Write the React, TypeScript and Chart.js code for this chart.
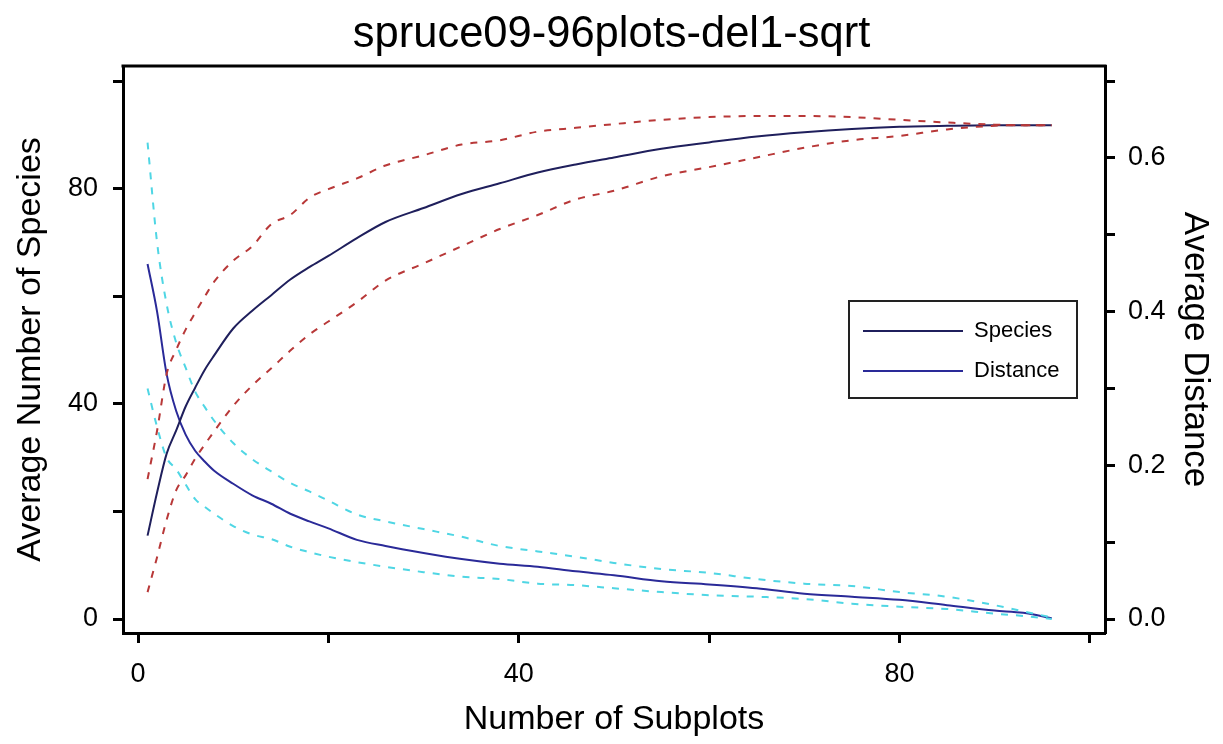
import { useEffect, useRef } from "react";
import { Chart, registerables } from "chart.js";

Chart.register(...registerables);

const chartTitle = "spruce09-96plots-del1-sqrt";
const xTitle = "Number of Subplots";
const leftTitle = "Average Number of Species";
const rightTitle = "Average Distance";

const subplots = [1, 2, 3, 4, 5, 6, 7, 8, 10, 12, 14, 16, 18, 20, 23, 26, 30, 34, 38, 42, 46, 50, 55, 60, 65, 70, 75, 80, 85, 90, 93, 96];

const speciesMean = [15.5, 23.5, 30.7, 35.0, 39.5, 43.0, 46.3, 49.0, 54.0, 57.3, 60.2, 63.1, 65.4, 67.5, 70.8, 73.8, 76.4, 79.0, 81.0, 83.0, 84.5, 85.8, 87.4, 88.6, 89.7, 90.5, 91.1, 91.5, 91.7, 91.8, 91.8, 91.8];
const speciesUpper = [26.0, 35.0, 45.5, 50.0, 53.8, 56.9, 59.9, 62.7, 66.6, 69.3, 73.4, 75.1, 78.3, 79.9, 81.9, 84.3, 86.2, 88.2, 89.0, 90.6, 91.3, 92.0, 92.8, 93.3, 93.5, 93.5, 93.3, 92.8, 92.3, 91.9, 91.8, 91.8];
const speciesLower = [5.0, 11.5, 18.4, 23.9, 26.7, 29.8, 32.4, 34.9, 39.6, 43.4, 46.6, 49.9, 52.9, 55.3, 58.9, 62.9, 66.1, 69.3, 72.5, 75.1, 78.0, 79.6, 82.3, 84.0, 85.8, 87.6, 89.0, 89.8, 91.0, 91.7, 91.8, 91.8];

const distanceMean = [0.462, 0.4, 0.319, 0.271, 0.24, 0.219, 0.205, 0.193, 0.176, 0.161, 0.15, 0.137, 0.127, 0.118, 0.103, 0.095, 0.086, 0.078, 0.072, 0.068, 0.062, 0.057, 0.049, 0.045, 0.04, 0.033, 0.029, 0.025, 0.018, 0.011, 0.008, 0.001];
const distanceUpper = [0.62, 0.49, 0.41, 0.36, 0.327, 0.296, 0.276, 0.258, 0.229, 0.208, 0.192, 0.177, 0.166, 0.154, 0.136, 0.127, 0.117, 0.107, 0.095, 0.088, 0.081, 0.073, 0.065, 0.06, 0.052, 0.046, 0.043, 0.035, 0.029, 0.018, 0.01, 0.002];
const distanceLower = [0.3, 0.25, 0.21, 0.195, 0.175, 0.156, 0.146, 0.137, 0.121, 0.11, 0.104, 0.094, 0.087, 0.081, 0.074, 0.068, 0.061, 0.055, 0.052, 0.046, 0.044, 0.04, 0.035, 0.031, 0.029, 0.026, 0.02, 0.016, 0.013, 0.007, 0.004, 0.0];

const xTicks = [0, 20, 40, 60, 80, 100];
const xTickLabels = [0, 40, 80];
const speciesTicks = [0, 20, 40, 60, 80, 100];
const speciesTickLabels = [0, 40, 80];
const distanceTicks = [0, 0.1, 0.2, 0.3, 0.4, 0.5, 0.6, 0.7];
const distanceTickLabels = [0, 0.2, 0.4, 0.6];

const FONT = "'Liberation Sans', Arial, sans-serif";
const speciesColor = "#1f1f5c";
const distanceColor = "#2a2a98";
const redDash = "#b83838";
const cyanDash = "#4fd6e4";

const pts = (arr: number[]) => subplots.map((n, i) => ({ x: n, y: arr[i] }));
const near = (list: number[], v: number) => list.some((t) => Math.abs(t - v) < 1e-6);

const framePlugin = {
  id: "frameAndLegend",
  afterDraw(chart: any) {
    const { ctx, chartArea: a } = chart;
    ctx.save();
    ctx.strokeStyle = "#000";
    ctx.lineWidth = 3;
    ctx.beginPath();
    ctx.moveTo(a.left - 1.5, a.top);
    ctx.lineTo(a.right + 1.5, a.top);
    ctx.stroke();

    // legend box
    const items = chart.data.datasets.filter((d: any) => d.showInLegend);
    ctx.lineWidth = 2;
    ctx.strokeStyle = "#222";
    ctx.strokeRect(849, 301, 228, 97);
    ctx.font = `22px ${FONT}`;
    ctx.textBaseline = "middle";
    ctx.fillStyle = "#000";
    items.forEach((d: any, i: number) => {
      const y = 331 + i * 40;
      ctx.strokeStyle = d.borderColor;
      ctx.lineWidth = 2;
      ctx.beginPath();
      ctx.moveTo(863, y);
      ctx.lineTo(963, y);
      ctx.stroke();
      ctx.fillText(d.label, 974, y);
    });
    ctx.restore();
  },
};

export default function App() {
  const ref = useRef<HTMLCanvasElement | null>(null);
  useEffect(() => {
    if (!ref.current) return;
    const line = (label: string, arr: number[], axis: string, color: string, dashed: boolean, legend: boolean) => ({
      label,
      data: pts(arr),
      yAxisID: axis,
      borderColor: color,
      backgroundColor: color,
      borderWidth: 2,
      borderDash: dashed ? [7, 8] : [],
      pointRadius: 0,
      fill: false,
      cubicInterpolationMode: "monotone" as const,
      showInLegend: legend,
    });
    const chart = new Chart(ref.current, {
      type: "line",
      data: {
        datasets: [
          line("Species upper", speciesUpper, "y", redDash, true, false),
          line("Species lower", speciesLower, "y", redDash, true, false),
          line("Distance upper", distanceUpper, "y1", cyanDash, true, false),
          line("Distance lower", distanceLower, "y1", cyanDash, true, false),
          line("Species", speciesMean, "y", speciesColor, false, true),
          line("Distance", distanceMean, "y1", distanceColor, false, true),
        ] as any,
      },
      options: {
        animation: false,
        responsive: false,
        layout: { padding: 0 },
        plugins: {
          legend: { display: false },
          tooltip: { enabled: false },
          title: {
            display: true,
            text: chartTitle,
            color: "#000",
            font: { size: 43.5, family: FONT, weight: "normal" },
            padding: { top: 9, bottom: 4.8 },
          },
        },
        scales: {
          x: {
            type: "linear",
            position: "bottom",
            min: -1.58,
            max: 101.6,
            afterBuildTicks: (s: any) => {
              s.ticks = xTicks.map((v) => ({ value: v }));
            },
            afterFit: (s: any) => {
              s.height = 111;
            },
            ticks: {
              autoSkip: false,
              maxRotation: 0,
              padding: 15,
              color: "#000",
              font: { size: 27, family: FONT },
              callback: (v: any) => (near(xTickLabels, Number(v)) ? String(v) : ""),
            },
            grid: { drawOnChartArea: false, drawTicks: true, tickLength: 10, tickWidth: 3, tickColor: "#000" },
            border: { display: true, width: 3, color: "#000" },
            title: {
              display: true,
              text: xTitle,
              color: "#000",
              font: { size: 34, family: FONT },
              padding: { top: 0, bottom: 4 },
            },
          },
          y: {
            type: "linear",
            position: "left",
            min: -2.6,
            max: 102.8,
            afterBuildTicks: (s: any) => {
              s.ticks = speciesTicks.map((v) => ({ value: v }));
            },
            afterFit: (s: any) => {
              s.width = 123;
            },
            ticks: {
              autoSkip: false,
              padding: 15,
              color: "#000",
              font: { size: 27, family: FONT },
              callback: (v: any) => (near(speciesTickLabels, Number(v)) ? String(v) : ""),
            },
            grid: { drawOnChartArea: false, drawTicks: true, tickLength: 10, tickWidth: 3, tickColor: "#000" },
            border: { display: true, width: 3, color: "#000" },
            title: {
              display: true,
              text: leftTitle,
              color: "#000",
              font: { size: 34, family: FONT },
              padding: { top: 10, bottom: 0 },
            },
          },
          y1: {
            type: "linear",
            position: "right",
            min: -0.0182,
            max: 0.7196,
            afterBuildTicks: (s: any) => {
              s.ticks = distanceTicks.map((v) => ({ value: v }));
            },
            afterFit: (s: any) => {
              s.width = 118;
            },
            ticks: {
              autoSkip: false,
              padding: 13,
              color: "#000",
              font: { size: 27, family: FONT },
              callback: (v: any) => (near(distanceTickLabels, Number(v)) ? Number(v).toFixed(1) : ""),
            },
            grid: { drawOnChartArea: false, drawTicks: true, tickLength: 10, tickWidth: 3, tickColor: "#000" },
            border: { display: true, width: 3, color: "#000" },
            title: {
              display: true,
              text: rightTitle,
              color: "#000",
              font: { size: 35, family: FONT },
              padding: { top: 7, bottom: 0 },
            },
          },
        },
      } as any,
      plugins: [framePlugin],
    });
    return () => chart.destroy();
  }, []);

  return (
    <div style={{ position: "fixed", left: 0, top: 0, width: 1223, height: 744, background: "#fff" }}>
      <canvas ref={ref} width={1223} height={744} style={{ width: 1223, height: 744, display: "block" }} />
    </div>
  );
}
